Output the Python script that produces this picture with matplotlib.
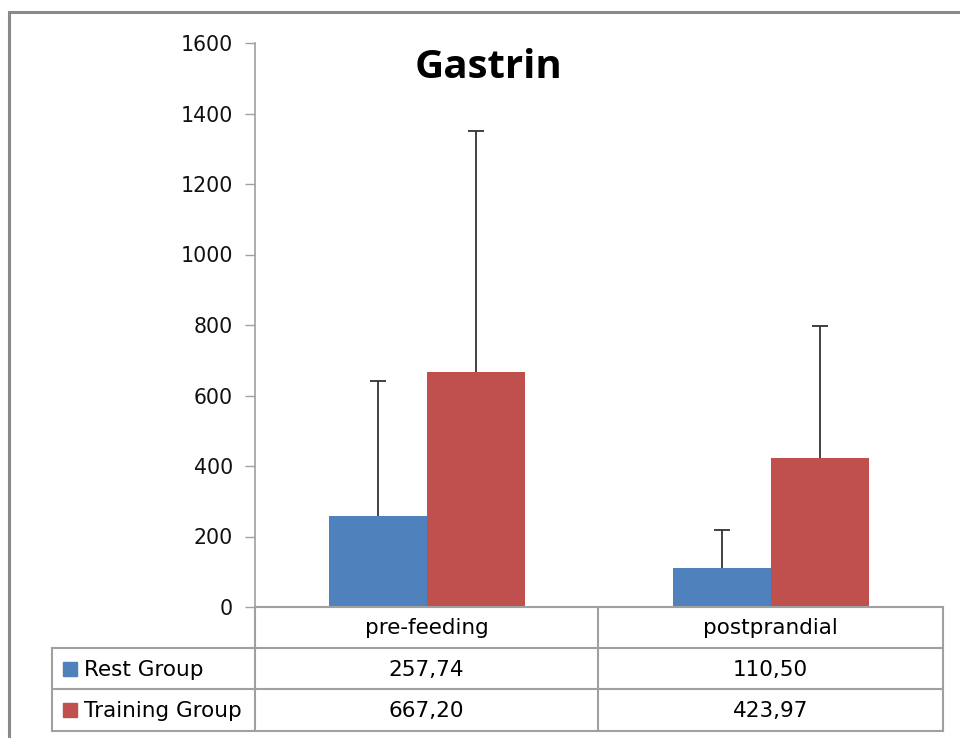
import matplotlib.pyplot as plt
import matplotlib.patches as mpatches
from matplotlib.lines import Line2D
import numpy as np

plt.rcParams['font.family'] = ['DejaVu Sans']

# Data
categories = ['pre-feeding', 'postprandial']
series = ['Rest Group', 'Training Group']
rest_means = [257.74, 110.50]
training_means = [667.20, 423.97]
rest_sd = [383, 108]
training_sd = [684, 373]
cell_text = [['257,74', '110,50'], ['667,20', '423,97']]
colors = ['#4f81bd', '#c0504d']
grid_grey = '#a0a0a0'

W, H = 960, 738
fig = plt.figure(figsize=(W / 100, H / 100), dpi=100)


def fx(px):
    return px / W


def fy(py):
    return 1 - py / H


# outer chart frame
fig.add_artist(mpatches.Rectangle((fx(9), fy(745)), fx(1000), fy(12) - fy(745),
                                  transform=fig.transFigure, fill=False,
                                  edgecolor='#8a8a8a', linewidth=2.2))

# plot area
ax_l, ax_r, ax_t, ax_b = 255, 943, 43, 607
ax = fig.add_axes([fx(ax_l), fy(ax_b), fx(ax_r - ax_l), fy(ax_t) - fy(ax_b)])
x = np.arange(len(categories)) + 0.5
bw = 0.284
for offset, means, sds, c in [(-bw / 2, rest_means, rest_sd, colors[0]),
                              (bw / 2, training_means, training_sd, colors[1])]:
    pos = x + offset
    tops = np.array(means) + np.array(sds)
    ax.bar(pos, means, bw, color=c, edgecolor='none')
    # upper-only error bars with a cap
    ax.vlines(pos, means, tops, color='#333333', linewidth=1.3)
    ax.plot(pos, tops, linestyle='none', marker='_', markersize=11,
            markeredgewidth=1.3, color='#333333')
ax.set_xlim(0, 2)
ax.set_ylim(0, 1600)
ax.set_yticks(np.arange(0, 1601, 200))
ax.set_xticks([])
for s in ['top', 'right']:
    ax.spines[s].set_visible(False)
for s in ['left', 'bottom']:
    ax.spines[s].set_color(grid_grey)
    ax.spines[s].set_linewidth(1.2)
ax.tick_params(axis='y', direction='out', length=7, width=1, color=grid_grey,
               labelsize=14.8, labelcolor='#111111', pad=9)
ax.set_title('Gastrin', fontsize=29, fontweight='bold', family='Open Sans',
             x=0.34, y=0.976, va='top')

# data table below the plot
col_edges = [52, 255, 598, 943]
row_edges = [607, 648, 689, 731]


def hline(py, x0, x1):
    fig.add_artist(Line2D([fx(x0), fx(x1)], [fy(py), fy(py)], color=grid_grey, linewidth=1.5))


def vline(px, y0, y1):
    fig.add_artist(Line2D([fx(px), fx(px)], [fy(y0), fy(y1)], color=grid_grey, linewidth=1.5))


hline(row_edges[0], col_edges[1], col_edges[3])
for py in row_edges[1:]:
    hline(py, col_edges[0], col_edges[3])
vline(col_edges[0], row_edges[1], row_edges[3])
for px in col_edges[1:]:
    vline(px, row_edges[0], row_edges[3])

fs = 15.5
for j, cat in enumerate(categories):
    cx = (col_edges[j + 1] + col_edges[j + 2]) / 2
    fig.text(fx(cx), fy((row_edges[0] + row_edges[1]) / 2 + 1), cat, ha='center', va='center', fontsize=fs)
for i, name in enumerate(series):
    cy = (row_edges[i + 1] + row_edges[i + 2]) / 2
    fig.add_artist(mpatches.Rectangle((fx(63), fy(cy + 7)), fx(14), fy(cy - 7) - fy(cy + 7),
                                      transform=fig.transFigure, color=colors[i]))
    fig.text(fx(84), fy(cy + 1), name, ha='left', va='center', fontsize=fs)
    for j in range(len(categories)):
        cx = (col_edges[j + 1] + col_edges[j + 2]) / 2
        fig.text(fx(cx), fy(cy + 1), cell_text[i][j], ha='center', va='center', fontsize=fs)

plt.savefig('out.png', dpi=100)
